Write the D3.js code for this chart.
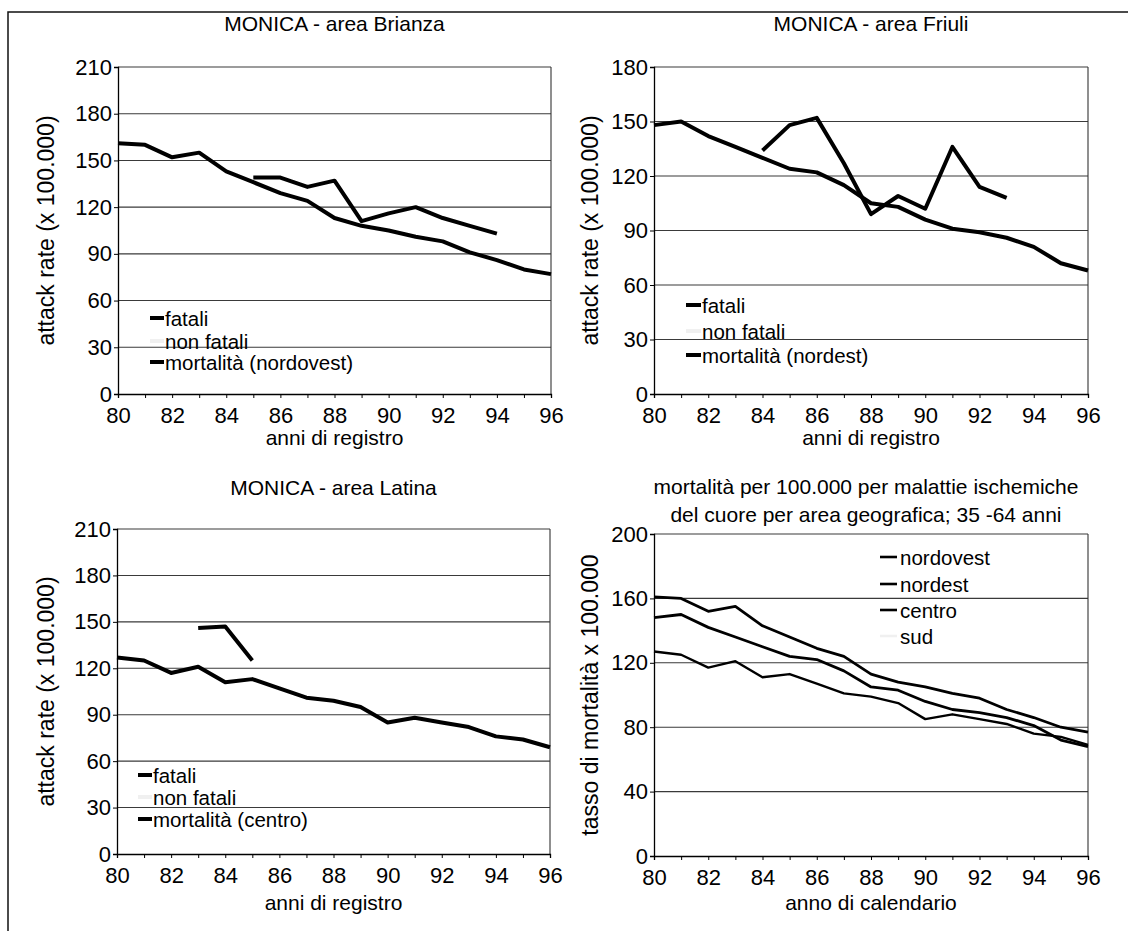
<!DOCTYPE html>
<html>
<head>
<meta charset="utf-8">
<script src="https://cdn.jsdelivr.net/npm/d3@7"></script>
<style>
  body { margin: 0; background: #fff; }
  svg { display: block; font-family: "Liberation Sans", Arial, sans-serif; }
</style>
</head>
<body>
<svg id="chart" width="1128" height="931"></svg>
<script>
// Years of registration / calendar years (two-digit form, 1980-1996)
const years = [80, 81, 82, 83, 84, 85, 86, 87, 88, 89, 90, 91, 92, 93, 94, 95, 96];
const xTickLabels = [80, 82, 84, 86, 88, 90, 92, 94, 96];

// IHD mortality per 100.000, ages 35-64, by geographic area
const nordovest = [161, 160, 152, 155, 143, 136, 129, 124, 113, 108, 105, 101, 98, 91, 86, 80, 77];
const nordest   = [148, 150, 142, 136, 130, 124, 122, 115, 105, 103, 96, 91, 89, 86, 81, 72, 68];
const centro    = [127, 125, 117, 121, 111, 113, 107, 101, 99, 95, 85, 88, 85, 82, 76, 74, 69];

// MONICA fatal attack rates per area
const fataliBrianzaYears = [85, 86, 87, 88, 89, 90, 91, 92, 93, 94];
const fataliBrianza      = [139, 139, 133, 137, 111, 116, 120, 113, 108, 103];
const fataliFriuliYears  = [84, 85, 86, 87, 88, 89, 90, 91, 92, 93];
const fataliFriuli       = [134, 148, 152, 127, 99, 109, 102, 136, 114, 108];
const fataliLatinaYears  = [83, 84, 85];
const fataliLatina       = [146, 147, 125];

// Y tick values
const yTicksBrianza = [0, 30, 60, 90, 120, 150, 180, 210];
const yTicksFriuli  = [0, 30, 60, 90, 120, 150, 180];
const yTicksLatina  = [0, 30, 60, 90, 120, 150, 180, 210];
const yTicksItalia  = [0, 40, 80, 120, 160, 200];

const svg = d3.select("#chart");

// outer frame (top and left edges of the figure box)
svg.append("path")
  .attr("d", "M8,931 V12 H1128")
  .attr("fill", "none").attr("stroke", "#111").attr("stroke-width", 1.5);

const panels = [
  {
    title: ["MONICA - area Brianza"], titleY: 31,
    box: { x0: 118, x1: 551, y0: 67, y1: 394 },
    yTicks: yTicksBrianza,
    yTitle: "attack rate (x 100.000)", yTitleX: 46,
    xTitle: "anni di registro", xTitleY: 445,
    series: [
      { xs: fataliBrianzaYears, ys: fataliBrianza, w: 4 },
      { xs: years, ys: nordovest, w: 4 }
    ],
    legend: { sx: 150, sw: 14, tx: 165, sWidth: 4, items: [
      { label: "fatali", y: 318, show: true },
      { label: "non fatali", y: 341, show: false },
      { label: "mortalità (nordovest)", y: 362, show: true }
    ]}
  },
  {
    title: ["MONICA - area Friuli"], titleY: 31,
    box: { x0: 654, x1: 1088, y0: 67, y1: 394 },
    yTicks: yTicksFriuli,
    yTitle: "attack rate (x 100.000)", yTitleX: 590,
    xTitle: "anni di registro", xTitleY: 445,
    series: [
      { xs: fataliFriuliYears, ys: fataliFriuli, w: 4 },
      { xs: years, ys: nordest, w: 4 }
    ],
    legend: { sx: 686, sw: 15, tx: 702, sWidth: 4, items: [
      { label: "fatali", y: 305, show: true },
      { label: "non fatali", y: 331, show: false },
      { label: "mortalità (nordest)", y: 355, show: true }
    ]}
  },
  {
    title: ["MONICA - area Latina"], titleY: 495,
    box: { x0: 117, x1: 550, y0: 529, y1: 854 },
    yTicks: yTicksLatina,
    yTitle: "attack rate (x 100.000)", yTitleX: 46,
    xTitle: "anni di registro", xTitleY: 910,
    series: [
      { xs: fataliLatinaYears, ys: fataliLatina, w: 4 },
      { xs: years, ys: centro, w: 4 }
    ],
    legend: { sx: 138, sw: 14, tx: 153, sWidth: 4, items: [
      { label: "fatali", y: 775, show: true },
      { label: "non fatali", y: 797, show: false },
      { label: "mortalità (centro)", y: 819, show: true }
    ]}
  },
  {
    title: ["mortalità per 100.000 per malattie ischemiche",
            "del cuore per area geografica; 35 -64 anni"], titleY: 494,
    box: { x0: 654, x1: 1088, y0: 534, y1: 856 },
    yTicks: yTicksItalia,
    yTitle: "tasso di mortalità x 100.000", yTitleX: 590,
    xTitle: "anno di calendario", xTitleY: 910,
    series: [
      { xs: years, ys: nordovest, w: 2.8 },
      { xs: years, ys: nordest, w: 2.8 },
      { xs: years, ys: centro, w: 2.4 }
    ],
    legend: { sx: 880, sw: 17, tx: 900, sWidth: 2.6, items: [
      { label: "nordovest", y: 557, show: true },
      { label: "nordest", y: 584, show: true },
      { label: "centro", y: 610, show: true },
      { label: "sud", y: 636, show: false }
    ]}
  }
];

panels.forEach(p => {
  const b = p.box;
  const yMax = p.yTicks[p.yTicks.length - 1];
  const x = d3.scaleLinear().domain([80, 96]).range([b.x0, b.x1]);
  const y = d3.scaleLinear().domain([0, yMax]).range([b.y1, b.y0]);
  const g = svg.append("g");

  // horizontal gridlines
  g.append("g").selectAll("line")
    .data(p.yTicks.filter(v => v > 0))
    .join("line")
    .attr("x1", b.x0).attr("x2", b.x1)
    .attr("y1", d => y(d)).attr("y2", d => y(d))
    .attr("stroke", "#3a3a3a").attr("stroke-width", 1.1);

  // right edge of the plot area
  g.append("line")
    .attr("x1", b.x1).attr("x2", b.x1).attr("y1", b.y0).attr("y2", b.y1)
    .attr("stroke", "#333").attr("stroke-width", 1.1);

  // y axis
  const ya = g.append("g")
    .attr("transform", `translate(${b.x0},0)`)
    .call(d3.axisLeft(y).tickValues(p.yTicks).tickSize(4).tickPadding(2).tickFormat(d3.format("d")));
  ya.selectAll("text").attr("font-size", 22).attr("fill", "#000").attr("font-family", null);

  // x axis: a tick every year, a label every two years
  const xa = g.append("g")
    .attr("transform", `translate(0,${b.y1})`)
    .call(d3.axisBottom(x).tickValues(years).tickSize(4).tickPadding(9)
      .tickFormat(d => xTickLabels.includes(d) ? String(d) : ""));
  xa.selectAll("text").attr("font-size", 22).attr("fill", "#000").attr("font-family", null);

  [ya, xa].forEach(a => {
    a.select(".domain").attr("stroke", "#000").attr("stroke-width", 1.3);
    a.selectAll(".tick line").attr("stroke", "#000");
  });

  // series
  const line = d3.line().x(d => x(d[0])).y(d => y(d[1])).curve(d3.curveLinear);
  p.series.forEach(s => {
    g.append("path")
      .datum(s.xs.map((v, i) => [v, s.ys[i]]))
      .attr("d", line)
      .attr("fill", "none")
      .attr("stroke", "#000")
      .attr("stroke-width", s.w)
      .attr("stroke-linejoin", "round")
      .attr("stroke-linecap", "butt");
  });

  // titles
  p.title.forEach((t, i) => {
    g.append("text")
      .attr("x", (b.x0 + b.x1) / 2 + (p.title.length > 1 ? -5 : 0))
      .attr("y", p.titleY + i * 28)
      .attr("text-anchor", "middle")
      .attr("font-size", 21)
      .text(t);
  });

  g.append("text")
    .attr("x", (b.x0 + b.x1) / 2)
    .attr("y", p.xTitleY)
    .attr("text-anchor", "middle")
    .attr("font-size", 21)
    .text(p.xTitle);

  g.append("text")
    .attr("transform", `translate(${p.yTitleX},${(b.y0 + b.y1) / 2}) rotate(-90)`)
    .attr("text-anchor", "middle")
    .attr("dominant-baseline", "central")
    .attr("font-size", 23)
    .text(p.yTitle);

  // legend
  const L = p.legend;
  L.items.forEach(it => {
    g.append("line")
      .attr("x1", L.sx).attr("x2", L.sx + L.sw)
      .attr("y1", it.y).attr("y2", it.y)
      .attr("stroke", it.show ? "#000" : "#f0f0f0")
      .attr("stroke-width", L.sWidth);
    g.append("text")
      .attr("x", L.tx).attr("y", it.y)
      .attr("dominant-baseline", "central")
      .attr("font-size", 20.5)
      .text(it.label);
  });
});
</script>
</body>
</html>
